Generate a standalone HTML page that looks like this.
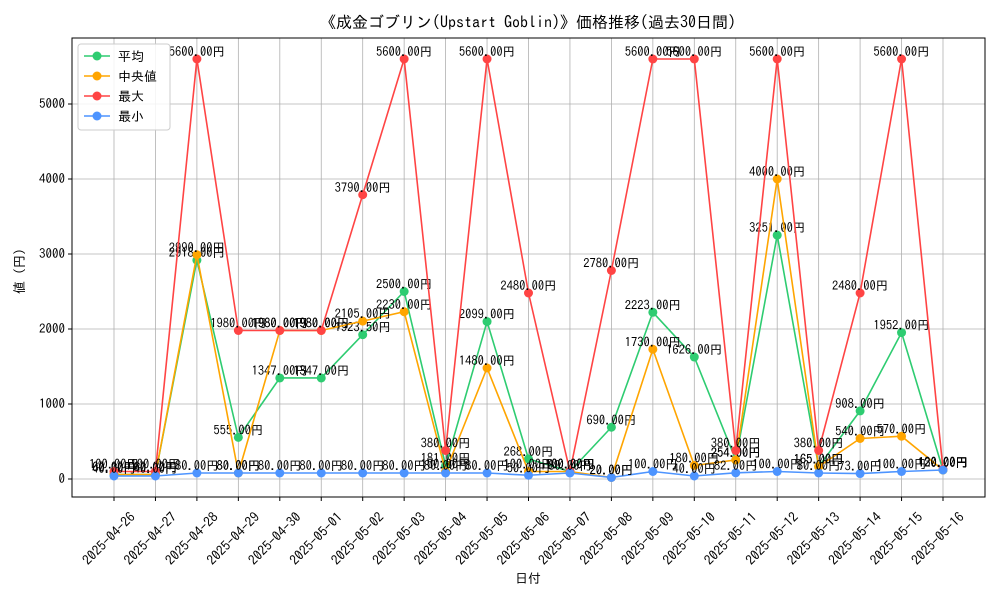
<!DOCTYPE html>
<html><head><meta charset="utf-8"><style>
body{margin:0;background:#fff}
svg{font-family:"IPAGothic","Liberation Sans","Noto Sans CJK JP",sans-serif}
</style></head><body>
<svg id="c" width="1000" height="600"></svg>
<script>
const dates=["2025-04-26","2025-04-27","2025-04-28","2025-04-29","2025-04-30","2025-05-01","2025-05-02","2025-05-03","2025-05-04","2025-05-05","2025-05-06","2025-05-07","2025-05-08","2025-05-09","2025-05-10","2025-05-11","2025-05-12","2025-05-13","2025-05-14","2025-05-15","2025-05-16"];
const avgVals=[60,60,2918,555,1347,1347,1923.5,2500,181,2099,268,100,690,2223,1626,254,3251,165,908,1952,120];
const medVals=[60,60,2990,80,1980,1980,2105,2230,100,1480,100,100,20,1730,180,254,4000,165,540,570,120];
const maxVals=[100,100,5600,1980,1980,1980,3790,5600,380,5600,2480,100,2780,5600,5600,380,5600,380,2480,5600,130];
const minVals=[40,40,80,80,80,80,80,80,80,80,50,80,20,100,40,82,100,80,73,100,120];
const yTicks=[0,1000,2000,3000,4000,5000];
const series=[["平均","#2ecc71",avgVals,"avg"],["中央値","#ffa500",medVals,"median"],["最大","#ff4444",maxVals,"max"],["最小","#4d94ff",minVals,"min"]];
const L=72,R=985,T=38,B=497;
const xS=i=>114+i*(943-114)/(dates.length-1);
const yS=v=>479-v*0.075;
const NS="http://www.w3.org/2000/svg",svg=document.getElementById('c');
function mk(t,a,p){const e=document.createElementNS(NS,t);for(const k in a)e.setAttribute(k,a[k]);(p||svg).appendChild(e);return e;}
yTicks.forEach(v=>{
 const g=mk('line',{x1:L,x2:R,y1:yS(v),y2:yS(v),stroke:'#b0b0b0','stroke-width':0.8});
 
 
 mk('line',{x1:L-4,x2:L,y1:yS(v),y2:yS(v),stroke:'#000'});
 const t=mk('text',{x:L-7,y:yS(v)+4,'text-anchor':'end','font-size':13});t.textContent=v;
 
 
});
dates.forEach((d,i)=>{
 const g=mk('line',{x1:xS(i),x2:xS(i),y1:T,y2:B,stroke:'#b0b0b0','stroke-width':0.8});
 
 
 mk('line',{x1:xS(i),x2:xS(i),y1:B,y2:B+4,stroke:'#000'});
 const ax=xS(i)+22,ay=B+21;
 const t=mk('text',{x:ax,y:ay,'text-anchor':'end','font-size':13.5,transform:`rotate(-45 ${ax} ${ay})`});t.textContent=d;
 
 
});
const fr=mk('rect',{x:L,y:T,width:R-L,height:B-T,fill:'none',stroke:'#000','stroke-width':1});


series.forEach(([n,c,vals,id])=>{
 const g=mk('g',{});
 
 
 mk('polyline',{points:vals.map((v,i)=>xS(i)+','+yS(v)).join(' '),fill:'none',stroke:c,'stroke-width':1.6},g);
 vals.forEach((v,i)=>{
  const p=mk('circle',{cx:xS(i),cy:yS(v),r:4.5,fill:c},g);
  
  
 });
 vals.forEach((v,i)=>{
  const t=mk('text',{x:xS(i),y:yS(v)-3,'text-anchor':'middle','font-size':12.5},g);
  t.textContent=v.toFixed(2)+'円';
  
  
 });
});
const lg=mk('g',{});


mk('rect',{x:78,y:44,width:92,height:86,fill:'#fff','fill-opacity':0.85,stroke:'#ccc',rx:3},lg);
series.forEach(([n,c],k)=>{
 const y=56+k*20;
 mk('line',{x1:84,x2:110,y1:y,y2:y,stroke:c,'stroke-width':1.6},lg);
 mk('circle',{cx:97,cy:y,r:4.5,fill:c},lg);
 const t=mk('text',{x:118,y:y+5,'font-size':13},lg);t.textContent=n;
 
 
});
const tt=mk('text',{x:528,y:28,'text-anchor':'middle','font-size':16});tt.textContent='《成金ゴブリン(Upstart Goblin)》価格推移(過去30日間)';


const xt=mk('text',{x:528,y:583,'text-anchor':'middle','font-size':13});xt.textContent='日付';


const yt=mk('text',{x:24,y:268,'text-anchor':'middle','font-size':13,transform:'rotate(-90 24 268)'});yt.textContent='値（円）';


</script>
</body></html>
